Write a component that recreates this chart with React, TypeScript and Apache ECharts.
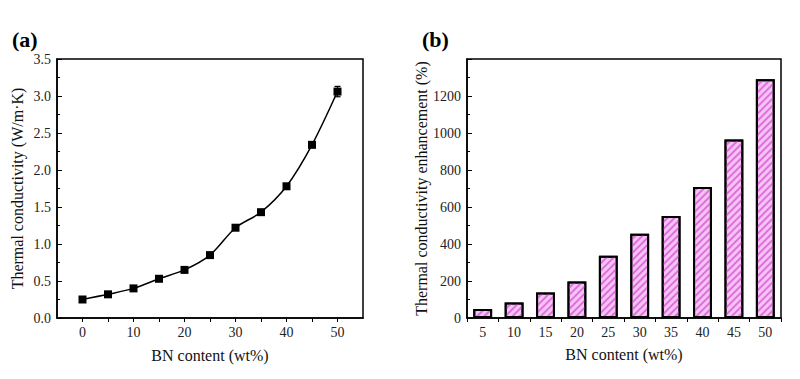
import React, { useEffect, useRef } from "react";
import * as echarts from "echarts";

const bnContent = [0, 5, 10, 15, 20, 25, 30, 35, 40, 45, 50];
const conductivity = [0.25, 0.32, 0.4, 0.53, 0.65, 0.85, 1.22, 1.43, 1.78, 2.34, 3.06];
const conductivityErr = [0.03, 0.02, 0.03, 0.02, 0.02, 0.03, 0.03, 0.02, 0.03, 0.03, 0.07];
const barCategories = ["5", "10", "15", "20", "25", "30", "35", "40", "45", "50"];
const enhancement = [48, 84, 138, 197, 337, 455, 552, 708, 965, 1290];
const xTickValues = [0, 5, 10, 15, 20, 25, 30, 35, 40, 45, 50];
const xLabelValues = [0, 10, 20, 30, 40, 50];

const FONT = "Liberation Serif";

export default function App() {
  const ref = useRef<HTMLDivElement>(null);
  useEffect(() => {
    if (!ref.current) return;
    const chart = echarts.init(ref.current, null, { renderer: "svg" });
    const axisLine = { show: true, onZero: false, lineStyle: { color: "#000", width: 1.5 } };
    const label = { color: "#222", fontFamily: FONT, fontSize: 14 };
    const nameStyle = { color: "#111", fontFamily: FONT, fontSize: 16 };
    chart.setOption({
      animation: false,
      backgroundColor: "#fff",
      textStyle: { fontFamily: FONT },
      title: [
        { text: "(a)", left: 7, top: 23, textStyle: { fontFamily: FONT, fontSize: 22, fontWeight: "bold", color: "#000" } },
        { text: "(b)", left: 417, top: 23, textStyle: { fontFamily: FONT, fontSize: 22, fontWeight: "bold", color: "#000" } },
      ],
      grid: [
        { left: 57, right: 437, top: 59, bottom: 61, show: true, borderColor: "#000", borderWidth: 1.5, backgroundColor: "transparent" },
        { left: 467, right: 19, top: 59, bottom: 61, show: true, borderColor: "#000", borderWidth: 1.5, backgroundColor: "transparent" },
      ],
      xAxis: [
        {
          type: "value",
          gridIndex: 0,
          min: -5,
          max: 55,
          axisLine,
          axisTick: { show: true, inside: false, length: 4, customValues: xTickValues, lineStyle: { color: "#000", width: 1 } },
          axisLabel: { ...label, margin: 7, customValues: xLabelValues },
          splitLine: { show: false },
          name: "BN content (wt%)",
          nameLocation: "middle",
          nameGap: 29,
          nameTextStyle: nameStyle,
        },
        {
          type: "category",
          gridIndex: 1,
          data: barCategories,
          boundaryGap: true,
          axisLine,
          axisTick: { show: true, inside: false, length: 4, alignWithLabel: false, lineStyle: { color: "#000", width: 1 } },
          axisLabel: { ...label, margin: 7 },
          name: "BN content (wt%)",
          nameLocation: "middle",
          nameGap: 28,
          nameTextStyle: nameStyle,
        },
      ],
      yAxis: [
        {
          type: "value",
          gridIndex: 0,
          min: 0,
          max: 3.5,
          interval: 0.5,
          axisLine,
          axisTick: { show: true, inside: true, length: 5, lineStyle: { color: "#000", width: 1 } },
          minorTick: { show: true, splitNumber: 2, length: 3, lineStyle: { color: "#000", width: 1 } },
          axisLabel: { ...label, margin: 6, formatter: (v: number) => v.toFixed(1) },
          splitLine: { show: false },
          name: "Thermal conductivity (W/m·K)",
          nameLocation: "middle",
          nameGap: 32,
          nameTextStyle: nameStyle,
        },
        {
          type: "value",
          gridIndex: 1,
          min: 0,
          max: 1400,
          interval: 200,
          axisLine,
          axisTick: { show: true, inside: true, length: 5, lineStyle: { color: "#000", width: 1 } },
          minorTick: { show: true, splitNumber: 2, length: 3, lineStyle: { color: "#000", width: 1 } },
          axisLabel: { ...label, margin: 6, formatter: (v: number) => (v >= 1400 ? "" : String(v)) },
          splitLine: { show: false },
          name: "Thermal conductivity enhancement (%)",
          nameLocation: "middle",
          nameGap: 36,
          nameTextStyle: nameStyle,
        },
      ],
      series: [
        {
          type: "line",
          xAxisIndex: 0,
          yAxisIndex: 0,
          data: bnContent.map((x, i) => [x, conductivity[i]]),
          smooth: 0.3,
          symbol: "rect",
          symbolSize: 8,
          lineStyle: { color: "#000", width: 1.5 },
          itemStyle: { color: "#000" },
          z: 3,
        },
        {
          type: "custom",
          xAxisIndex: 0,
          yAxisIndex: 0,
          data: bnContent.map((x, i) => [x, conductivity[i] - conductivityErr[i], conductivity[i] + conductivityErr[i]]),
          renderItem: (params: any, api: any) => {
            const x = api.value(0);
            const lo = api.coord([x, api.value(1)]);
            const hi = api.coord([x, api.value(2)]);
            const w = 3;
            const style = { stroke: "#000", lineWidth: 1.2 };
            return {
              type: "group",
              children: [
                { type: "line", shape: { x1: lo[0], y1: lo[1], x2: hi[0], y2: hi[1] }, style },
                { type: "line", shape: { x1: lo[0] - w, y1: lo[1], x2: lo[0] + w, y2: lo[1] }, style },
                { type: "line", shape: { x1: hi[0] - w, y1: hi[1], x2: hi[0] + w, y2: hi[1] }, style },
              ],
            };
          },
          z: 2,
        },
        {
          type: "bar",
          xAxisIndex: 1,
          yAxisIndex: 1,
          data: enhancement,
          barWidth: "60%",
          itemStyle: {
            color: "#f6c4f4",
            borderColor: "#000",
            borderWidth: 2,
            decal: {
              symbol: "rect",
              symbolSize: 1,
              dashArrayX: [1, 0],
              dashArrayY: [1.5, 2.5],
              rotation: -Math.PI / 4,
              color: "#e070dd",
            },
          },
        },
      ],
    });
    return () => chart.dispose();
  }, []);
  return <div ref={ref} style={{ position: "absolute", left: 0, top: 0, width: 800, height: 379 }} />;
}
